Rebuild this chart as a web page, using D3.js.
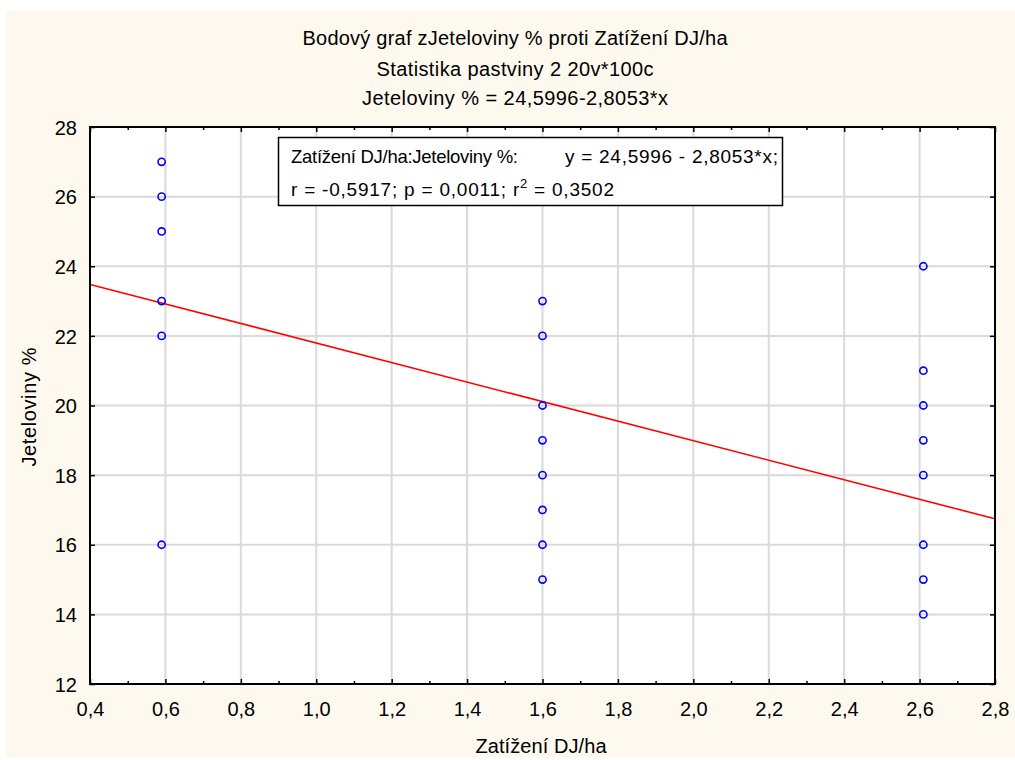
<!DOCTYPE html>
<html>
<head>
<meta charset="utf-8">
<script src="https://cdn.jsdelivr.net/npm/d3@7"></script>
<style>
  html, body { margin: 0; padding: 0; background: #ffffff; }
  svg { display: block; }
  text { font-family: "Liberation Sans", Arial, sans-serif; fill: #000; }
</style>
</head>
<body>
<script>
// ---------- data ----------
const titleLines = [
  "Bodový graf zJeteloviny % proti Zatížení DJ/ha",
  "Statistika pastviny 2 20v*100c",
  "Jeteloviny % = 24,5996-2,8053*x"
];
const xLabel = "Zatížení DJ/ha";
const yLabel = "Jeteloviny %";
const legendLines = ["Zatížení DJ/ha:Jeteloviny %:", "y = 24,5996 - 2,8053*x;"];
const statsText = ["r = -0,5917; p = 0,0011; r", "2", " = 0,3502"];

const xTicks = [0.4, 0.6, 0.8, 1.0, 1.2, 1.4, 1.6, 1.8, 2.0, 2.2, 2.4, 2.6, 2.8];
const xMinorTicks = [0.5, 0.7, 0.9, 1.1, 1.3, 1.5, 1.7, 1.9, 2.1, 2.3, 2.5, 2.7];
const yTicks = [12, 14, 16, 18, 20, 22, 24, 26, 28];

const groupX = [0.59, 1.6, 2.61];
const groupA = [27, 26, 25, 23, 22, 16];
const groupB = [23, 22, 20, 19, 18, 17, 16, 15];
const groupC = [24, 21, 20, 19, 18, 16, 15, 14];
const intercept = 24.5996;
const slope = -2.8053;

// ---------- layout ----------
const W = 1015, H = 760;
const L = 90, R = 995, T = 127, B = 684;
const fmt = v => d3.format(".1f")(v).replace(".", ",");

const x = d3.scaleLinear().domain([0.4, 2.8]).range([L, R]);
const y = d3.scaleLinear().domain([12, 28]).range([B, T]);

const svg = d3.select("body").append("svg").attr("width", W).attr("height", H);

svg.append("rect").attr("x", 0).attr("y", 0).attr("width", W).attr("height", H).attr("fill", "#ffffff");
svg.append("rect").attr("x", 6).attr("y", 11).attr("width", W - 6).attr("height", 746).attr("fill", "#fef9ef");
svg.append("rect").attr("x", L).attr("y", T).attr("width", R - L).attr("height", B - T).attr("fill", "#ffffff");

// gridlines
const grid = svg.append("g");
grid.selectAll(".gx").data(xTicks.slice(1, -1)).join("line")
  .attr("x1", d => x(d)).attr("x2", d => x(d)).attr("y1", T).attr("y2", B)
  .attr("stroke", "#dadada").attr("stroke-width", 2);
grid.selectAll(".gy").data(yTicks.slice(1, -1)).join("line")
  .attr("y1", d => y(d)).attr("y2", d => y(d)).attr("x1", L).attr("x2", R)
  .attr("stroke", "#dadada").attr("stroke-width", 2);

// clip
svg.append("clipPath").attr("id", "clip").append("rect")
  .attr("x", L).attr("y", T).attr("width", R - L).attr("height", B - T);

// regression line
const xd = x.domain();
svg.append("line")
  .attr("clip-path", "url(#clip)")
  .attr("x1", x(xd[0])).attr("y1", y(intercept + slope * xd[0]))
  .attr("x2", x(xd[1])).attr("y2", y(intercept + slope * xd[1]))
  .attr("stroke", "#ff0000").attr("stroke-width", 1.6);

// points
const pts = [];
groupA.forEach(v => pts.push([groupX[0], v]));
groupB.forEach(v => pts.push([groupX[1], v]));
groupC.forEach(v => pts.push([groupX[2], v]));
svg.append("g").selectAll("circle").data(pts).join("circle")
  .attr("cx", d => x(d[0])).attr("cy", d => y(d[1])).attr("r", 3.6)
  .attr("fill", "none").attr("stroke", "#0000ff").attr("stroke-width", 1.6);

// axes ticks (inward)
function tickAxis(axis, tr) {
  const g = svg.append("g").attr("transform", tr).call(axis);
  g.select(".domain").remove();
  g.selectAll("line").attr("stroke", "#000").attr("stroke-width", 1.5);
  return g;
}
const bMaj = tickAxis(d3.axisBottom(x).tickValues(xTicks).tickSize(-5).tickFormat(fmt).tickPadding(0), `translate(0,${B})`);
bMaj.selectAll("text").attr("y", 32).attr("dy", null).attr("font-size", 20).attr("font-family", "Liberation Sans, Arial, sans-serif").attr("fill", "#000");
tickAxis(d3.axisBottom(x).tickValues(xMinorTicks).tickSize(-3).tickFormat(""), `translate(0,${B})`);
tickAxis(d3.axisTop(x).tickValues(xTicks).tickSize(-5).tickFormat(""), `translate(0,${T})`);
tickAxis(d3.axisTop(x).tickValues(xMinorTicks).tickSize(-3).tickFormat(""), `translate(0,${T})`);
const lAx = tickAxis(d3.axisLeft(y).tickValues(yTicks).tickSize(-5).tickFormat(d => d).tickPadding(0), `translate(${L},0)`);
lAx.selectAll("text").attr("x", -13).attr("dy", "0.36em").attr("font-size", 20).attr("font-family", "Liberation Sans, Arial, sans-serif").attr("fill", "#000");
tickAxis(d3.axisRight(y).tickValues(yTicks).tickSize(-5).tickFormat(""), `translate(${R},0)`);

// frame
svg.append("rect").attr("x", L).attr("y", T).attr("width", R - L).attr("height", B - T)
  .attr("fill", "none").attr("stroke", "#000").attr("stroke-width", 2);

// titles
const titleY = [45, 76, 105];
const titleW = [425, 277, 306];
titleLines.forEach((t, i) => {
  svg.append("text").attr("x", 515).attr("y", titleY[i]).attr("text-anchor", "middle")
    .attr("font-size", 20).attr("textLength", titleW[i]).attr("lengthAdjust", "spacing").text(t);
});

// axis titles
svg.append("text").attr("x", 541).attr("y", 753).attr("text-anchor", "middle")
  .attr("font-size", 20).attr("textLength", 131).attr("lengthAdjust", "spacing").text(xLabel);
svg.append("text").attr("transform", "translate(36,407) rotate(-90)").attr("text-anchor", "middle")
  .attr("font-size", 20).attr("textLength", 119).attr("lengthAdjust", "spacing").text(yLabel);

// legend box
svg.append("rect").attr("x", 278.5).attr("y", 137.5).attr("width", 504).attr("height", 68)
  .attr("fill", "#ffffff").attr("stroke", "#000").attr("stroke-width", 1.5);
svg.append("text").attr("x", 291).attr("y", 163).attr("font-size", 18.5)
  .attr("textLength", 227).attr("lengthAdjust", "spacing").text(legendLines[0]);
svg.append("text").attr("x", 565).attr("y", 163).attr("font-size", 19)
  .attr("textLength", 213).attr("lengthAdjust", "spacing").text(legendLines[1]);
const st = svg.append("text").attr("x", 291).attr("y", 196).attr("font-size", 19)
  .attr("textLength", 323).attr("lengthAdjust", "spacing");
st.append("tspan").text(statsText[0]);
st.append("tspan").attr("dy", -8).attr("font-size", 13).text(statsText[1]);
st.append("tspan").attr("dy", 8).text(statsText[2]);
</script>
</body>
</html>
